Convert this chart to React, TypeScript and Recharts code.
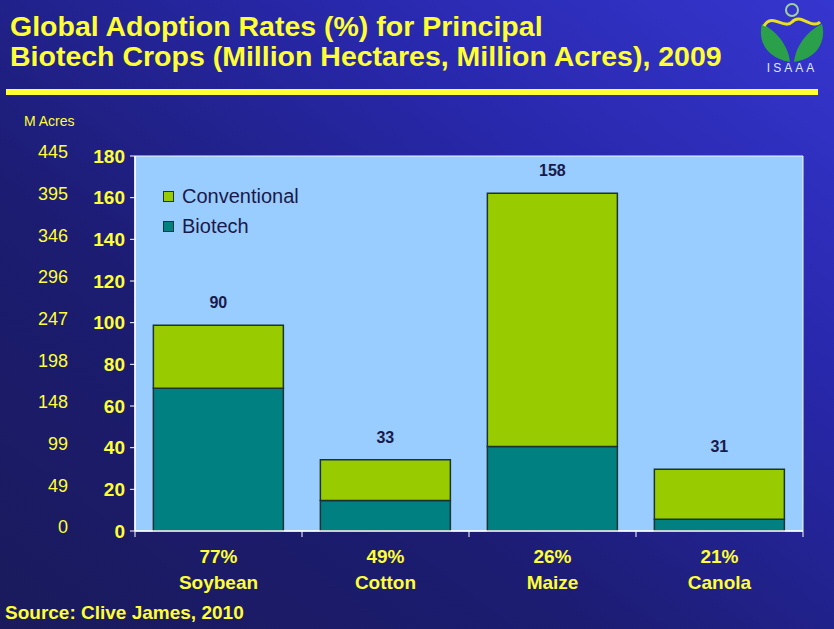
import React from 'react';
import { BarChart, Bar, XAxis, YAxis, LabelList, ReferenceArea } from 'recharts';

const CROPS = ['Soybean', 'Cotton', 'Maize', 'Canola'];
const ADOPTION = ['77%', '49%', '26%', '21%'];
const BIOTECH = [68.5, 14.7, 40.6, 5.7];
const CONVENTIONAL = [30.3, 19.5, 121.5, 24.0];
const TOTAL_LABELS = ['90', '33', '158', '31'];
const HECTARE_TICKS = [0, 20, 40, 60, 80, 100, 120, 140, 160, 180];
const ACRE_LABELS = ['0', '49', '99', '148', '198', '247', '296', '346', '395', '445'];

const W = 834;
const H = 629;
const MARGIN = { top: 156, right: 31, bottom: 38, left: 0 };
const Y_AXIS_W = 135;
const BAND = (W - MARGIN.left - MARGIN.right - Y_AXIS_W) / CROPS.length;

const YELLOW = '#ffff33';
const NAVY = '#1a1a4a';
const FONT = 'Arial, "Liberation Sans", sans-serif';

const data = CROPS.map((name, i) => ({
  name,
  pct: ADOPTION[i],
  biotech: BIOTECH[i],
  conventional: CONVENTIONAL[i],
  total: TOTAL_LABELS[i],
}));

const CropTick = (props: any) => {
  const { x, y, payload, index } = props;
  const half = BAND / 2;
  return (
    <g>
      {index === 0 && <line x1={x - half} x2={x - half} y1={y} y2={y + 6} stroke="#fff" strokeWidth={1} />}
      <line x1={x + half} x2={x + half} y1={y} y2={y + 6} stroke="#fff" strokeWidth={1} />
      <text x={x} y={y + 32} textAnchor="middle" fill={YELLOW} fontWeight="bold" fontSize={19} fontFamily={FONT}>
        {ADOPTION[index]}
      </text>
      <text x={x} y={y + 58} textAnchor="middle" fill={YELLOW} fontWeight="bold" fontSize={19} fontFamily={FONT}>
        {payload.value}
      </text>
    </g>
  );
};

// hectare label next to the axis, acre equivalent further left
const DualTick = (props: any) => {
  const { x, y, payload } = props;
  const i = HECTARE_TICKS.indexOf(payload.value);
  return (
    <g>
      <text x={x} y={y} dy="0.35em" textAnchor="end" fill={YELLOW} fontWeight="bold" fontSize={19} fontFamily={FONT}>
        {payload.value}
      </text>
      <text x={x - 57} y={y - 4} dy="0.35em" textAnchor="end" fill={YELLOW} fontSize={18} fontFamily={FONT}>
        {ACRE_LABELS[i]}
      </text>
    </g>
  );
};

const TotalLabel = (props: any) => {
  const { x, y, width, index } = props;
  return (
    <text x={x + width / 2} y={y - 17} textAnchor="middle" fill={NAVY} fontWeight="bold" fontSize={16} fontFamily={FONT}>
      {TOTAL_LABELS[index]}
    </text>
  );
};

const LegendBox = () => (
  <div
    style={{
      position: 'absolute',
      left: 163,
      top: 181,
      fontFamily: FONT,
      fontSize: 20,
      color: NAVY,
      lineHeight: '30px',
    }}
  >
    {[
      { label: 'Conventional', color: '#99cc00' },
      { label: 'Biotech', color: '#008080' },
    ].map((it) => (
      <div key={it.label} style={{ display: 'flex', alignItems: 'center' }}>
        <span style={{ width: 9, height: 9, background: it.color, border: '1px solid #1a3333', marginRight: 8 }} />
        {it.label}
      </div>
    ))}
  </div>
);

const Logo = () => (
  <svg width={84} height={80} style={{ position: 'absolute', left: 750, top: 0 }}>
    <circle cx={42} cy={10} r={6} fill="none" stroke="#9fd0a0" strokeWidth={2} />
    <path d="M40 62 C 14 58, 8 38, 12 24 C 25 30, 38 44, 40 62 Z" fill="#2aa04a" />
    <path d="M44 62 C 70 58, 76 38, 72 24 C 59 30, 46 44, 44 62 Z" fill="#2aa04a" />
    <path d="M14 26 C 22 12, 34 30, 42 22 C 50 12, 62 30, 70 22" fill="none" stroke="#e8e020" strokeWidth={3} />
    <text x={42} y={72} textAnchor="middle" fill="#dfe8ff" fontSize={12} fontFamily={FONT} letterSpacing={3}>
      ISAAA
    </text>
  </svg>
);

export default function App() {
  return (
    <div
      style={{
        position: 'absolute',
        left: 0,
        top: 0,
        width: W,
        height: H,
        overflow: 'hidden',
        fontFamily: FONT,
        background: 'linear-gradient(to bottom left, #3636d0 0%, #2828ac 30%, #1c1c72 65%, #1a1a5c 100%)',
      }}
    >
      <div
        style={{
          position: 'absolute',
          left: 10,
          top: 11,
          color: YELLOW,
          fontWeight: 'bold',
          fontSize: 28.5,
          lineHeight: '30px',
          whiteSpace: 'nowrap',
        }}
      >
        Global Adoption Rates (%) for Principal
        <br />
        Biotech Crops (Million Hectares, Million Acres), 2009
      </div>
      <Logo />
      <div style={{ position: 'absolute', left: 6, top: 89, width: 812, height: 6, background: YELLOW }} />
      <div style={{ position: 'absolute', left: 24, top: 113, color: YELLOW, fontSize: 14 }}>M Acres</div>
      <div
        style={{ position: 'absolute', left: 5, top: 602, color: YELLOW, fontSize: 19, fontWeight: 'bold' }}
      >
        Source: Clive James, 2010
      </div>
      <div style={{ position: 'absolute', left: 0, top: 0 }}>
        <BarChart width={W} height={H} data={data} margin={MARGIN} barCategoryGap="11%">
          <XAxis
            dataKey="name"
            height={60}
            axisLine={{ stroke: '#fff', strokeWidth: 1.5 }}
            tickLine={false}
            tickSize={0}
            tickMargin={0}
            interval={0}
            tick={<CropTick />}
          />
          <YAxis
            width={Y_AXIS_W}
            domain={[0, 180]}
            ticks={HECTARE_TICKS}
            axisLine={{ stroke: '#fff', strokeWidth: 1.5 }}
            tickLine={{ stroke: '#fff' }}
            tickSize={5}
            tickMargin={5}
            tick={<DualTick />}
          />
          <ReferenceArea y1={0} y2={180} fill="#99ccff" fillOpacity={1} stroke="#eef6ff" strokeWidth={1} />
          <Bar
            dataKey="biotech"
            stackId="a"
            fill="#008080"
            stroke="#1a3333"
            strokeWidth={1.5}
            isAnimationActive={false}
          />
          <Bar
            dataKey="conventional"
            stackId="a"
            fill="#99cc00"
            stroke="#1a3333"
            strokeWidth={1.5}
            isAnimationActive={false}
          >
            <LabelList dataKey="total" content={<TotalLabel />} />
          </Bar>
        </BarChart>
      </div>
      <LegendBox />
    </div>
  );
}
